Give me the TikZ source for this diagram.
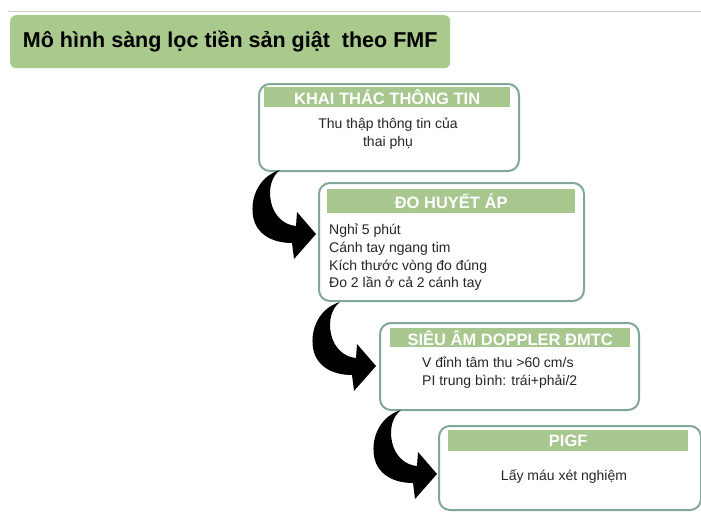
\documentclass[tikz,border=0pt]{standalone}
\usepackage{fontspec}
\setmainfont{Liberation Sans}
\definecolor{titlegreen}{HTML}{A9C98D}
\definecolor{hdrgreen}{HTML}{A8C78F}
\definecolor{bordercol}{HTML}{7FA898}
\definecolor{rulegray}{HTML}{CCCCCC}
\tikzset{
  stagebox/.style={draw=bordercol, line width=2pt, rounded corners=11pt, fill=white, anchor=north west, inner sep=0pt},
  hdrbar/.style={fill=hdrgreen, anchor=north west, inner sep=0pt, text=white, font=\fontsize{16.5}{18}\selectfont\bfseries},
  bodytxt/.style={inner sep=0pt, font=\fontsize{14}{17.7}\selectfont, text=black!85},
  curvarrow/.style={fill=black}
}
\newcommand{\curvedarrowshape}{%
  (-36,-64) .. controls (-56,-58) and (-66,-38) .. (-63,-18)
  .. controls (-60,0) and (-44,9) .. (-24,9)
  -- (-22,25) -- (0,0) -- (-19,-22) -- (-20,-8)
  .. controls (-32,-9) and (-42,-18) .. (-45,-32)
  .. controls (-48,-46) and (-44,-58) .. (-36,-64) -- cycle}
\begin{document}
\begin{tikzpicture}[x=1pt,y=-1pt]
\useasboundingbox (0,0) rectangle (701,512);
\fill[white] (0,0) rectangle (701,512);
% top rule
\coordinate (ruleL) at (8,11);
\coordinate (ruleR) at (701,11);
\draw[rulegray, line width=1pt] (ruleL) -- (ruleR);
% title
\node[fill=titlegreen, rounded corners=6pt, anchor=north west, minimum width=440pt, minimum height=53pt, inner sep=0pt] (title) at (10,15) {};
\node[font=\fontsize{21.5}{24}\selectfont\bfseries, inner sep=0pt] (titletxt) at (title.center) {Mô hình sàng lọc tiền sản giật\ \ theo FMF};
% box 1
\node[stagebox, minimum width=260pt, minimum height=87pt] (b1) at (258,83) {};
\node[hdrbar, minimum width=246pt, minimum height=20pt] (h1) at (264,87) {KHAI THÁC THÔNG TIN};
\node[bodytxt, align=center] (t1) at (388,134) {Thu thập thông tin của\\thai phụ};
% box 2
\node[stagebox, minimum width=265pt, minimum height=118pt] (b2) at (318,182) {};
\node[hdrbar, minimum width=248pt, minimum height=24pt] (h2) at (327,189) {ĐO HUYẾT ÁP};
\node[bodytxt, align=left, anchor=north west] (t2) at (329,224) {Nghỉ 5 phút\\Cánh tay ngang tim\\Kích thước vòng đo đúng\\Đo 2 lần ở cả 2 cánh tay};
% box 3
\node[stagebox, minimum width=259pt, minimum height=87pt] (b3) at (379,322) {};
\node[hdrbar, minimum width=240pt, minimum height=19pt] (h3) at (390,328) {SIÊU ÂM DOPPLER ĐMTC};
\node[bodytxt, align=left, anchor=north west] (t3) at (422,357) {V đỉnh tâm thu >60 cm/s\\PI trung bình: trái+phải/2};
% box 4
\node[stagebox, minimum width=262pt, minimum height=84pt] (b4) at (438,425) {};
\node[hdrbar, minimum width=240pt, minimum height=21pt] (h4) at (448,430) {PIGF};
\node[bodytxt] (t4) at (564,477) {Lấy máu xét nghiệm};
% curved arrows
\coordinate (tip1) at (316,234);
\coordinate (tip2) at (376,366);
\coordinate (tip3) at (437,474);
\begin{scope}[shift={(tip1)}]
  \fill[curvarrow] \curvedarrowshape;
\end{scope}
\begin{scope}[shift={(tip2)}]
  \fill[curvarrow] \curvedarrowshape;
\end{scope}
\begin{scope}[shift={(tip3)}]
  \fill[curvarrow] \curvedarrowshape;
\end{scope}
\end{tikzpicture}
\end{document}
